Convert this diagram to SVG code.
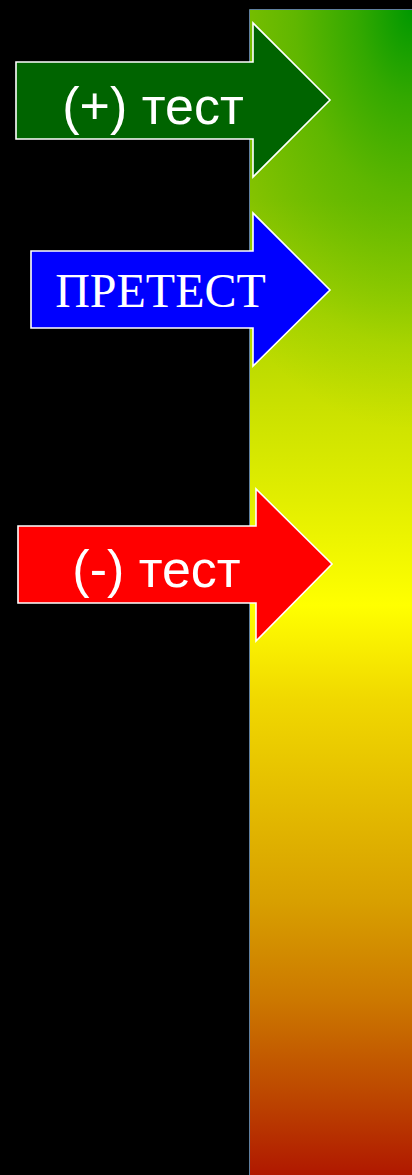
<svg xmlns="http://www.w3.org/2000/svg" width="412" height="1175" viewBox="0 0 412 1175">
  <defs>
    <linearGradient id="base" gradientUnits="userSpaceOnUse" x1="0" y1="10" x2="0" y2="1175">
      <stop offset="0" stop-color="#96c800"/>
      <stop offset="0.163" stop-color="#94c800"/>
      <stop offset="0.249" stop-color="#aad400"/>
      <stop offset="0.335" stop-color="#c8e000"/>
      <stop offset="0.421" stop-color="#e2ee00"/>
      <stop offset="0.511" stop-color="#ffff00"/>
      <stop offset="0.592" stop-color="#f0d800"/>
      <stop offset="0.678" stop-color="#e4bc00"/>
      <stop offset="0.764" stop-color="#d8a000"/>
      <stop offset="0.850" stop-color="#cc7800"/>
      <stop offset="0.936" stop-color="#bc4400"/>
      <stop offset="1" stop-color="#b01800"/>
    </linearGradient>
    <radialGradient id="green" gradientUnits="userSpaceOnUse" cx="412" cy="10" r="420" gradientTransform="translate(412 10) scale(0.62 1) translate(-412 -10)">
      <stop offset="0" stop-color="#009800" stop-opacity="1"/>
      <stop offset="0.21" stop-color="#009800" stop-opacity="0.66"/>
      <stop offset="0.45" stop-color="#009800" stop-opacity="0.36"/>
      <stop offset="0.8" stop-color="#009800" stop-opacity="0.08"/>
      <stop offset="1" stop-color="#009800" stop-opacity="0"/>
    </radialGradient>
    <style>
      .arrow { stroke: #ffffff; stroke-width: 1.6; stroke-linejoin: miter; }
      .sans { font-family: "Liberation Sans", Arial, sans-serif; fill: #ffffff; text-anchor: middle; }
      .serif { font-family: "Liberation Serif", "Times New Roman", serif; fill: #ffffff; text-anchor: middle; }
    </style>
  </defs>
  <rect x="0" y="0" width="412" height="1175" fill="#000000"/>
  <g id="scale-bar">
    <rect x="249.5" y="9.5" width="163" height="1166" fill="url(#base)"/>
    <rect x="249.5" y="9.5" width="163" height="1166" fill="url(#green)"/>
    <path d="M249.5,1175 V9.5 H412" fill="none" stroke="#5f7f9f" stroke-width="1"/>
  </g>
  <g id="connectors"/>
  <g id="node-positive">
    <polygon class="arrow" fill="#006400" points="16,62 253,62 253,23 330,100 253,177 253,139 16,139"/>
    <text class="sans" x="153" y="124" font-size="52">(+) тест</text>
  </g>
  <g id="node-pretest">
    <polygon class="arrow" fill="#0000ff" points="31,251 253,251 253,213 330,290 253,366 253,328 31,328"/>
    <text class="serif" x="160.5" y="307" font-size="48">ПРЕТЕСТ</text>
  </g>
  <g id="node-negative">
    <polygon class="arrow" fill="#ff0000" points="18,526 256,526 256,489 332,564 256,641 256,603 18,603"/>
    <text class="sans" x="156.5" y="587" font-size="52">(-) тест</text>
  </g>
</svg>
